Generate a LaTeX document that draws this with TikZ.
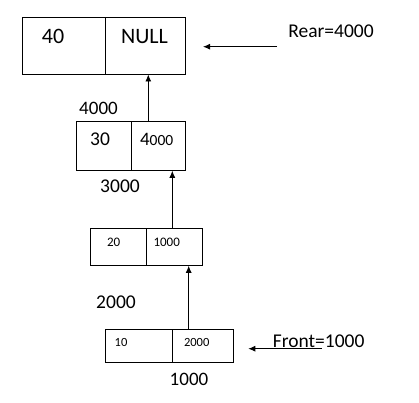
\documentclass[tikz,border=0pt]{standalone}
\usepackage{fontspec}
\setmainfont{Carlito}
\usetikzlibrary{arrows.meta}
\newcommand\fs[1]{\fontsize{#1}{#1}\selectfont}

\begin{document}
\begin{tikzpicture}[x=1pt,y=-1pt,
  cell/.style={draw,line width=0.9pt,inner sep=0pt},
  txt/.style={anchor=base,inner sep=0pt},
  arr/.style={line width=0.9pt,-{Latex[length=7pt,width=6pt]}}]
\useasboundingbox (0,0) rectangle (419,402);
\node[cell,minimum width=83pt,minimum height=57pt] (c40) at (63.5,45.5) {};
\node[cell,minimum width=80pt,minimum height=57pt] (cnull) at (145,45.5) {};
\node[cell,minimum width=54.6pt,minimum height=49pt] (c30) at (104,145.8) {};
\node[cell,minimum width=54pt,minimum height=49pt] (c4000) at (158.3,145.8) {};
\node[cell,minimum width=56pt,minimum height=37pt] (c20) at (118.3,246.8) {};
\node[cell,minimum width=56pt,minimum height=37pt] (c1000) at (174.3,246.8) {};
\node[cell,minimum width=67pt,minimum height=33pt] (c10) at (138.8,345.8) {};
\node[cell,minimum width=61pt,minimum height=33pt] (c2000) at (202.8,345.8) {};
\node[txt,font=\fs{22}] (t40) at (53,43) {40};
\node[txt,font=\fs{22}] (tnull) at (144.5,43) {NULL};
\node[txt,font=\fs{19.5}] (t30) at (100,145.7) {30};
\node[txt] (t4000) at (156.7,145.7) {{\fs{19}4}{\fs{15.5}000}};
\node[txt,font=\fs{13}] (t20) at (113.7,246) {20};
\node[txt,font=\fs{13}] (t1000) at (166.7,246) {1000};
\node[txt,font=\fs{12.5}] (t10) at (121,346.7) {10};
\node[txt,font=\fs{12.5}] (t2000) at (196.7,346.7) {2000};
\node[txt,font=\fs{19}] (a4000) at (98.5,114) {4000};
\node[txt,font=\fs{19.5}] (a3000) at (120,192) {3000};
\node[txt,font=\fs{19.5}] (a2000) at (116,308.3) {2000};
\node[txt,font=\fs{19}] (a1000) at (189,385.7) {1000};
\node[txt,font=\fs{19.5}] (rear) at (331,37) {Rear=4000};
\node[txt,font=\fs{19.5}] (front) at (318.7,347.3) {Front=1000};
\coordinate (rearstart) at (277,46.7);
\coordinate (rearend) at (203,46.7);
\coordinate (frontstart) at (321.7,348.7);
\coordinate (frontend) at (248.3,348.7);
\draw[arr] ([xshift=-10pt]c4000.north) -- ([xshift=3.3pt]cnull.south);
\draw[arr] ([xshift=-2pt]c1000.north) -- ([xshift=14pt]c4000.south);
\draw[arr] ([xshift=-14.1pt]c2000.north) -- ([xshift=14.4pt]c1000.south);
\draw[arr] (rearstart) -- (rearend);
\draw[arr] (frontstart) -- (frontend);
\end{tikzpicture}
\end{document}
